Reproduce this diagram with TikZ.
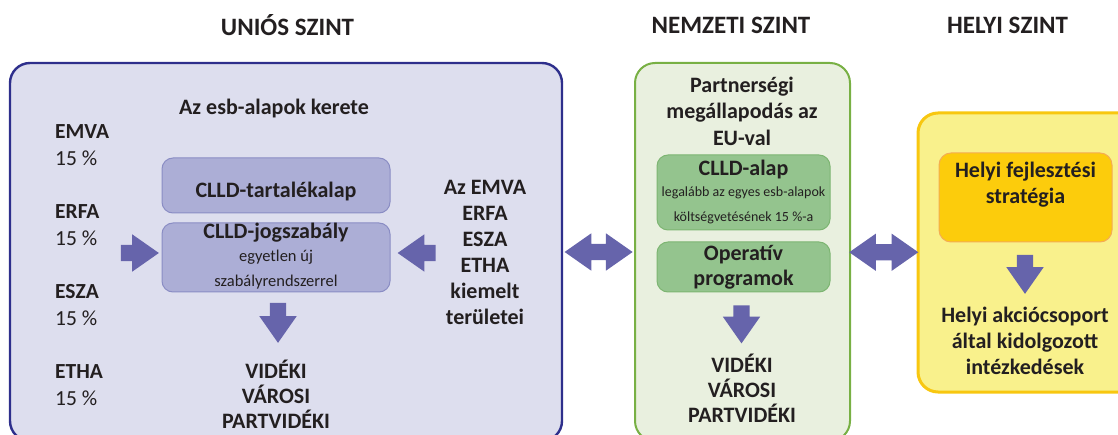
\documentclass[tikz,border=0pt]{standalone}
\usepackage{fontspec}
\setmainfont{Carlito}
\usetikzlibrary{shapes.arrows,positioning,calc}

\definecolor{unioline}{HTML}{2E2F8C}
\definecolor{uniofill}{HTML}{DDDEEE}
\definecolor{uniobox}{HTML}{ACAED6}
\definecolor{unioboxline}{HTML}{8A8DC4}
\definecolor{nemzline}{HTML}{78B044}
\definecolor{nemzfill}{HTML}{E9F0DF}
\definecolor{nemzbox}{HTML}{94C48E}
\definecolor{nemzboxline}{HTML}{7DB572}
\definecolor{helyline}{HTML}{F8C710}
\definecolor{helyfill}{HTML}{F9F18C}
\definecolor{helybox}{HTML}{FCCC0C}
\definecolor{helyboxline}{HTML}{F4AC55}
\definecolor{nyil}{HTML}{6664AB}
\definecolor{szoveg}{HTML}{231F20}

\newcommand{\kisbetu}{\mdseries\fontsize{16.5}{20}\selectfont}
\newcommand{\apro}{\mdseries\fontsize{14}{18}\selectfont}

\tikzset{
  nagy/.style={font=\bfseries\fontsize{22}{25}\selectfont,text=szoveg,align=center,inner sep=0pt},
  cim/.style={nagy,font=\bfseries\fontsize{25}{30}\selectfont},
  alap/.style={font=\fontsize{21.5}{27}\selectfont,text=szoveg,align=left,inner sep=0pt},
  keret/.style={rounded corners=20pt,line width=2.4pt},
  doboz/.style={rounded corners=11pt,line width=1pt},
  pfeil/.style={single arrow,fill=nyil,draw=none,inner sep=0pt,
    text height=16pt,text depth=0pt,text width=0pt,
    minimum width=37pt,minimum height=38pt,
    single arrow head extend=10.5pt,single arrow tip angle=70},
  kettos/.style={double arrow,fill=nyil,draw=none,inner sep=0pt,
    text height=16pt,text depth=0pt,text width=0pt,
    minimum width=37pt,double arrow head extend=10.5pt,double arrow tip angle=70}
}

\begin{document}
\begin{tikzpicture}[x=1pt,y=-1pt]
  \useasboundingbox (0,0) rectangle (1118,435);
  \clip (0,0) rectangle (1118,435);

  % szintek
  \node[cim] (hunio) at (287.5,25) {UNIÓS SZINT};
  \node[cim] (hnemz) at (731,25) {NEMZETI SZINT};
  \node[cim] (hhely) at (1007.5,25) {HELYI SZINT};

  % uniós szint
  \node[keret,draw=unioline,fill=uniofill,minimum width=552pt,minimum height=378pt] (unio) at (286,252) {};
  \node[nagy] (kerete) at (274,109) {Az esb-alapok kerete};
  \node[alap,anchor=west] (emva) at (55,145) {\textbf{EMVA}\\15 \%};
  \node[alap,anchor=west] (erfa) at (55,225) {\textbf{ERFA}\\15 \%};
  \node[alap,anchor=west] (esza) at (55,305) {\textbf{ESZA}\\15 \%};
  \node[alap,anchor=west] (etha) at (55,385) {\textbf{ETHA}\\15 \%};

  \node[doboz,draw=unioboxline,fill=uniobox,minimum width=228pt,minimum height=55pt] (tartalek) at (276,185.5) {};
  \node[nagy] at ([yshift=-6pt]tartalek.center) {CLLD-tartalékalap};
  \node[doboz,draw=unioboxline,fill=uniobox,minimum width=228pt,minimum height=69pt] (jogsz) at (276,257.5) {};
  \node[nagy] at ([yshift=1pt]jogsz.center) {CLLD-jogszabály\\[-2pt]\kisbetu egyetlen új\\\kisbetu szabályrendszerrel};

  \node[nagy,font=\bfseries\fontsize{22}{26}\selectfont] (kiemelt) at (485,252) {Az EMVA\\ERFA\\ESZA\\ETHA\\kiemelt\\területei};

  \node[pfeil] (be1) at (134,253) {};
  \node[pfeil,rotate=180] (be2) at (422.5,253) {};
  \node[pfeil,rotate=-90,minimum height=40pt] (le1) at (278,317) {};
  \node[nagy] (ter1) at (276,394) {VIDÉKI\\VÁROSI\\PARTVIDÉKI};

  % nemzeti szint
  \node[keret,line width=2pt,draw=nemzline,fill=nemzfill,minimum width=215pt,minimum height=378pt] (nemz) at (742.5,252) {};
  \node[nagy,font=\bfseries\fontsize{22}{26.5}\selectfont] (partner) at (742,111) {Partnerségi\\megállapodás az\\EU-val};
  \node[doboz,draw=nemzboxline,fill=nemzbox,minimum width=173pt,minimum height=75pt] (clld) at (743.5,192.5) {};
  \node[nagy] at ([yshift=1pt]clld.center) {CLLD-alap\\[-4pt]\apro legalább az egyes esb-alapok\\\apro költségvetésének 15 \%-a};
  \node[doboz,draw=nemzboxline,fill=nemzbox,minimum width=173pt,minimum height=50pt] (opprog) at (743.5,267) {};
  \node[nagy] at (opprog.center) {Operatív\\programok};
  \node[pfeil,rotate=-90,minimum height=38pt] (le2) at (741.5,318.5) {};
  \node[nagy] (ter2) at (742,388) {VIDÉKI\\VÁROSI\\PARTVIDÉKI};

  % helyi szint
  \node[keret,line width=3pt,draw=helyline,fill=helyfill,minimum width=230pt,minimum height=279pt] (hely) at (1033,252.5) {};
  \node[doboz,rounded corners=12pt,draw=helyboxline,fill=helybox,minimum width=173pt,minimum height=89pt] (strat) at (1025.5,197.5) {};
  \node[nagy,font=\bfseries\fontsize{22}{26}\selectfont] at ([yshift=12.5pt]strat.center) {Helyi fejlesztési\\stratégia};
  \node[pfeil,rotate=-90,minimum height=39pt] (le3) at (1025,268.5) {};
  \node[nagy,font=\bfseries\fontsize{22}{26}\selectfont] (akcio) at (1025,341) {Helyi akciócsoport\\által kidolgozott\\intézkedések};

  % kapcsolatok a szintek között
  \node[kettos,minimum height=68pt] (k1) at ($(unio.east)!0.5!(nemz.west)$) {};
  \node[kettos,minimum height=69pt] (k2) at ($(nemz.east)!0.5!(hely.west)$) {};
\end{tikzpicture}
\end{document}
